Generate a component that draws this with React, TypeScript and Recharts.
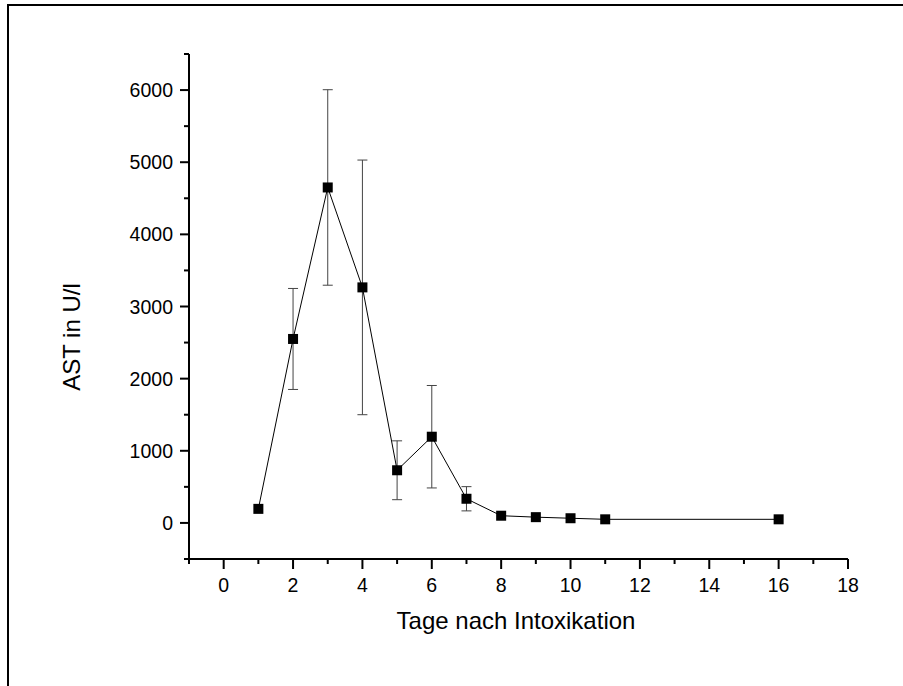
import React from 'react';
import { LineChart, Line, XAxis, YAxis, ErrorBar } from 'recharts';

// AST-Werte (Mittelwert ± SD) nach Intoxikation
const days = [1, 2, 3, 4, 5, 6, 7, 8, 9, 10, 11, 16];
const astMean = [195, 2550, 4650, 3265, 730, 1195, 335, 100, 80, 65, 50, 50];
const astSd = [null, 700, 1355, 1765, 408, 710, 168, null, null, null, null, null];

const xTicks = [-1, 0, 1, 2, 3, 4, 5, 6, 7, 8, 9, 10, 11, 12, 13, 14, 15, 16, 17, 18];
const yTicks = [-500, 0, 500, 1000, 1500, 2000, 2500, 3000, 3500, 4000, 4500, 5000, 5500, 6000, 6500];

const xLabel = 'Tage nach Intoxikation';
const yLabel = 'AST in U/l';

const data = days.map((d, i) => ({ day: d, ast: astMean[i], sd: astSd[i] }));

const FONT = '"Liberation Sans", Arial, Helvetica, sans-serif';

const XTick = (props: any) => {
  const { x, y, payload } = props;
  const major = payload.value % 2 === 0;
  return (
    <g>
      <line x1={x} y1={y} x2={x} y2={y + (major ? 10 : 5)} stroke="#000" strokeWidth={2} />
      {major && (
        <text x={x} y={y + 33} textAnchor="middle" fontSize={19.5} fontFamily={FONT} fill="#000">
          {payload.value}
        </text>
      )}
    </g>
  );
};

const YTick = (props: any) => {
  const { x, y, payload } = props;
  const major = payload.value % 1000 === 0;
  return (
    <g>
      <line x1={x} y1={y} x2={x - (major ? 9 : 5)} y2={y} stroke="#000" strokeWidth={2} />
      {major && (
        <text x={x - 16} y={y} dy="0.36em" textAnchor="end" fontSize={19.5} fontFamily={FONT} fill="#000">
          {payload.value}
        </text>
      )}
    </g>
  );
};

const SquareDot = (props: any) => {
  const { cx, cy, index } = props;
  if (cx == null || cy == null) return <g key={index} />;
  return <rect key={index} x={cx - 5} y={cy - 5} width={10} height={10} fill="#000" />;
};

const XTitle = () => (
  <text x={516} y={629} textAnchor="middle" fontSize={24} fontFamily={FONT} fill="#000">
    {xLabel}
  </text>
);

const YTitle = () => (
  <text
    x={80}
    y={337}
    textAnchor="middle"
    fontSize={24}
    fontFamily={FONT}
    fill="#000"
    transform="rotate(-90 80 337)"
  >
    {yLabel}
  </text>
);

export default function App() {
  return (
    <div style={{ position: 'absolute', left: 0, top: 0, width: 903, height: 686, background: '#fff' }}>
      <div style={{ position: 'absolute', left: 7, top: 4, width: 896, height: 2, background: '#000' }} />
      <div style={{ position: 'absolute', left: 7, top: 4, width: 2, height: 682, background: '#000' }} />
      <LineChart
        width={903}
        height={686}
        data={data}
        margin={{ top: 54, right: 55, bottom: 0, left: 0 }}
      >
        <XAxis
          dataKey="day"
          type="number"
          domain={[-1, 18]}
          ticks={xTicks}
          interval={0}
          height={127}
          tickSize={0}
          tickMargin={0}
          tick={<XTick />}
          axisLine={{ stroke: '#000', strokeWidth: 2 }}
          label={<XTitle />}
        />
        <YAxis
          type="number"
          domain={[-500, 6500]}
          ticks={yTicks}
          interval={0}
          width={189}
          tickSize={0}
          tickMargin={0}
          tick={<YTick />}
          axisLine={{ stroke: '#000', strokeWidth: 2 }}
          label={<YTitle />}
        />
        <Line
          dataKey="ast"
          stroke="#000"
          strokeWidth={1}
          dot={SquareDot}
          activeDot={false}
          isAnimationActive={false}
        >
          <ErrorBar dataKey="sd" width={5} stroke="#444" strokeWidth={1} direction="y" isAnimationActive={false} />
        </Line>
      </LineChart>
    </div>
  );
}
